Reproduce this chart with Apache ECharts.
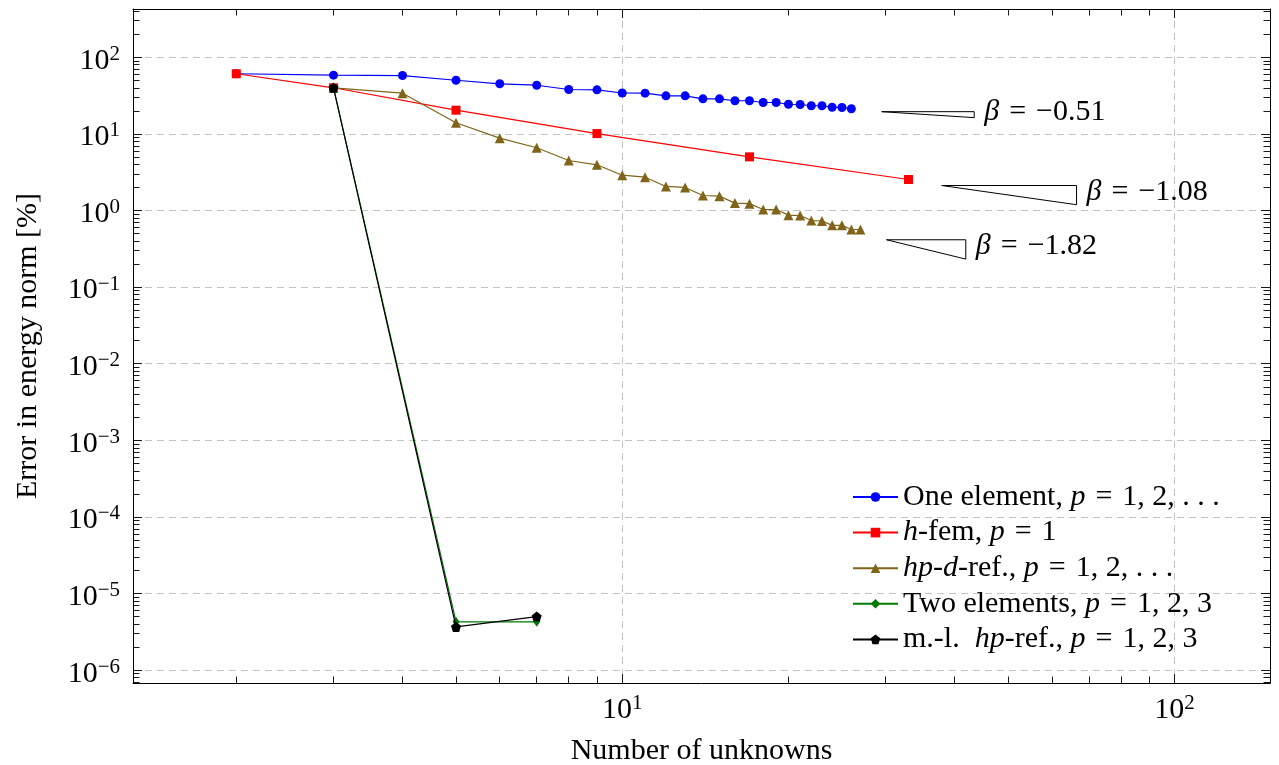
<!DOCTYPE html>
<html>
<head>
<meta charset="utf-8">
<script src="https://cdn.jsdelivr.net/npm/echarts@6/dist/echarts.min.js"></script>
<style>html,body{margin:0;padding:0;background:#fff}#c{width:1279px;height:765px}</style>
</head>
<body>
<div id="c"></div>
<script>
// ---------------- data ----------------
const oneElemX = [2,3,4,5,6,7,8,9,10,11,12,13,14,15,16,17,18,19,20,21,22,23,24,25,26];
const oneElemY = [61,58.4,57.8,50.2,45.1,43.2,38.0,37.6,34.2,34.0,31.4,31.4,28.7,28.7,27.1,27.1,25.7,25.7,24.4,24.2,23.3,23.3,22.3,22.1,21.3];

const hFemX = [2,3,5,9,17,33];
const hFemY = [61,40,20.4,10.1,5.02,2.54];

const hpdX = [3,4,5,6,7,8,9,10,11,12,13,14,15,16,17,18,19,20,21,22,23,24,25,26,27];
const hpdY = [40,34,14.0,8.8,6.6,4.5,3.95,2.89,2.72,2.06,2.0,1.57,1.54,1.25,1.23,1.03,1.03,0.87,0.86,0.74,0.73,0.64,0.64,0.565,0.565];

const twoElemX = [3,5,7];
const twoElemY = [40,4.27e-6,4.27e-6];

const mlhpX = [3,5,7];
const mlhpY = [40,3.67e-6,5.0e-6];

// slope triangles: left x, right x, top y, bottom y, slope
const slopeX1 = [29.5, 37.9, 30.1];
const slopeX2 = [43.4, 66.5, 41.9];
const slopeYTop = [19.5, 2.12, 0.415];
const slopeYBot = [16.3, 1.19, 0.232];
const slopeBeta = [-0.51, -1.08, -1.82];

const seriesNames = ['One element', 'h-fem', 'hp-d-ref.', 'Two elements', 'm.-l. hp-ref.'];
const legendLabels = [
  'One element, {i|p}\u2004=\u20041, 2, . . .',
  '{i|h}-fem, {i|p}\u2004=\u20041',
  '{i|hp}-{i|d}-ref., {i|p}\u2004=\u20041, 2, . . .',
  'Two elements, {i|p}\u2004=\u20041, 2, 3',
  'm.-l.  {i|hp}-ref., {i|p}\u2004=\u20041, 2, 3'
];

const xMin = 1.3, xMax = 149, yMin = 6.8e-7, yMax = 427;
const xMajor = [10, 100];
const yMajor = [1e-6,1e-5,1e-4,1e-3,1e-2,1e-1,1,10,100];

// ---------------- helpers ----------------
function minorsFor(lo, hi) {
  const out = [];
  for (let e = Math.floor(Math.log10(lo)); e <= Math.ceil(Math.log10(hi)); e++) {
    for (let k = 2; k <= 9; k++) {
      const v = parseFloat((k * Math.pow(10, e)).toPrecision(6));
      if (v > lo && v < hi) out.push(v);
    }
  }
  return out;
}
const xMinor = minorsFor(xMin, xMax);
const yMinor = minorsFor(yMin, yMax);

function zip(xs, ys) { return xs.map((x, i) => [x, ys[i]]); }

const FONT = 'Liberation Serif';
const FS = 30;
const tickRich = {
  b: { fontFamily: FONT, fontSize: FS, lineHeight: 34, color: '#000' },
  s: { fontFamily: FONT, fontSize: 21, lineHeight: 22, verticalAlign: 'top', color: '#000' }
};
function powLabel(v) {
  const e = Math.round(Math.log10(v));
  return '{b|10}{s|' + (e < 0 ? '\u2212' + (-e) : String(e)) + '}';
}

const black = '#000';
const gridLine = { show: true, lineStyle: { color: '#c4c4c4', width: 1, type: [7, 5] } };

function axis(dim, pos, major, minor, withLabels, extra) {
  const isX = dim === 'x';
  const a = {
    type: 'log', logBase: 10, gridIndex: 0,
    min: isX ? xMin : yMin, max: isX ? xMax : yMax,
    position: pos,
    axisLine: { show: !minor, onZero: false, lineStyle: { color: black, width: 1 } },
    axisTick: { show: true, inside: true, length: minor ? 6.5 : 9,
      customValues: minor ? (isX ? xMinor : yMinor) : (isX ? xMajor : yMajor),
      lineStyle: { color: black, width: 0.9 } },
    axisLabel: { show: false },
    splitLine: { show: false },
    minorTick: { show: false },
    splitArea: { show: false }
  };
  if (withLabels) {
    a.axisLabel = {
      show: true,
      customValues: isX ? xMajor : yMajor,
      formatter: powLabel,
      rich: tickRich,
      margin: isX ? 10 : 13,
      padding: isX ? 0 : [7, 0, 0, 0]
    };
    a.splitLine = gridLine;
  }
  return Object.assign(a, extra || {});
}

const pentagon = 'path://M0,-1 L0.951,-0.309 L0.588,0.809 L-0.588,0.809 L-0.951,-0.309 Z';

const mainSeries = [
  { name: seriesNames[0], x: oneElemX, y: oneElemY, color: '#0000ff', symbol: 'circle', size: 9 },
  { name: seriesNames[1], x: hFemX, y: hFemY, color: '#ff0000', symbol: 'rect', size: 9 },
  { name: seriesNames[2], x: hpdX, y: hpdY, color: '#7f6419', symbol: 'triangle', size: 10 },
  { name: seriesNames[3], x: twoElemX, y: twoElemY, color: '#007a00', symbol: 'diamond', size: [7, 10] },
  { name: seriesNames[4], x: mlhpX, y: mlhpY, color: '#000000', symbol: pentagon, size: 10 }
].map((s, i) => ({
  name: s.name, type: 'line', xAxisIndex: 0, yAxisIndex: 0,
  data: zip(s.x, s.y),
  symbol: s.symbol, symbolSize: s.size, showSymbol: true,
  color: s.color,
  itemStyle: { color: s.color },
  lineStyle: { color: s.color, width: 1.2 },
  z: 3 + i, silent: true
}));

const triSeries = slopeX1.map((x1, i) => ({
  type: 'line', xAxisIndex: 0, yAxisIndex: 0, silent: true,
  data: [[x1, slopeYTop[i]], [slopeX2[i], slopeYTop[i]], [slopeX2[i], slopeYBot[i]], [x1, slopeYTop[i]]],
  symbol: 'none', lineStyle: { color: black, width: 1 }, z: 2
}));

const betaSeries = {
  type: 'scatter', xAxisIndex: 0, yAxisIndex: 0, silent: true, z: 10,
  data: slopeX2.map((x2, i) => [x2, Math.sqrt(slopeYTop[i] * slopeYBot[i])]),
  symbol: 'circle',
  symbolSize: 0,
  color: '#000',
  itemStyle: { color: '#000', opacity: 1 },
  label: {
    show: true, position: 'right', distance: 10, offset: [0, -3],
    formatter: p => '{i|\u03b2}\u2004=\u2004' + (slopeBeta[p.dataIndex] < 0 ? '\u2212' : '') + Math.abs(slopeBeta[p.dataIndex]).toFixed(2),
    fontFamily: FONT, fontSize: FS, color: '#000', opacity: 1,
    textBorderWidth: 0,
    rich: { i: { fontFamily: FONT, fontSize: FS, fontStyle: 'italic', color: '#000' } }
  }
};

const chart = echarts.init(document.getElementById('c'), null, { renderer: 'canvas' });
chart.setOption({
  animation: false,
  backgroundColor: '#ffffff',
  grid: { left: 133, right: 9, top: 9, bottom: 82, containLabel: false, outerBoundsMode: 'none' },
  xAxis: [
    axis('x', 'bottom', true, false, true, {
      name: 'Number of unknowns', nameLocation: 'middle', nameGap: 53,
      nameTextStyle: { fontFamily: FONT, fontSize: FS, color: black }
    }),
    axis('x', 'bottom', false, true, false),
    axis('x', 'top', true, false, false),
    axis('x', 'top', false, true, false)
  ],
  yAxis: [
    axis('y', 'left', true, false, true, {
      name: 'Error in energy norm [%]', nameLocation: 'middle', nameGap: 90,
      nameTextStyle: { fontFamily: FONT, fontSize: FS, color: black }
    }),
    axis('y', 'left', false, true, false),
    axis('y', 'right', true, false, false),
    axis('y', 'right', false, true, false)
  ],
  legend: {
    data: seriesNames,
    orient: 'vertical',
    left: 852, top: 482,
    padding: 0,
    itemWidth: 45, itemHeight: 12, itemGap: 5.6,
    selectedMode: false,
    formatter: name => legendLabels[seriesNames.indexOf(name)],
    textStyle: {
      fontFamily: FONT, fontSize: FS, lineHeight: 30, color: black,
      rich: { i: { fontFamily: FONT, fontSize: FS, lineHeight: 30, fontStyle: 'italic', color: black } }
    }
  },
  series: [...mainSeries, ...triSeries, betaSeries]
});
</script>
</body>
</html>
